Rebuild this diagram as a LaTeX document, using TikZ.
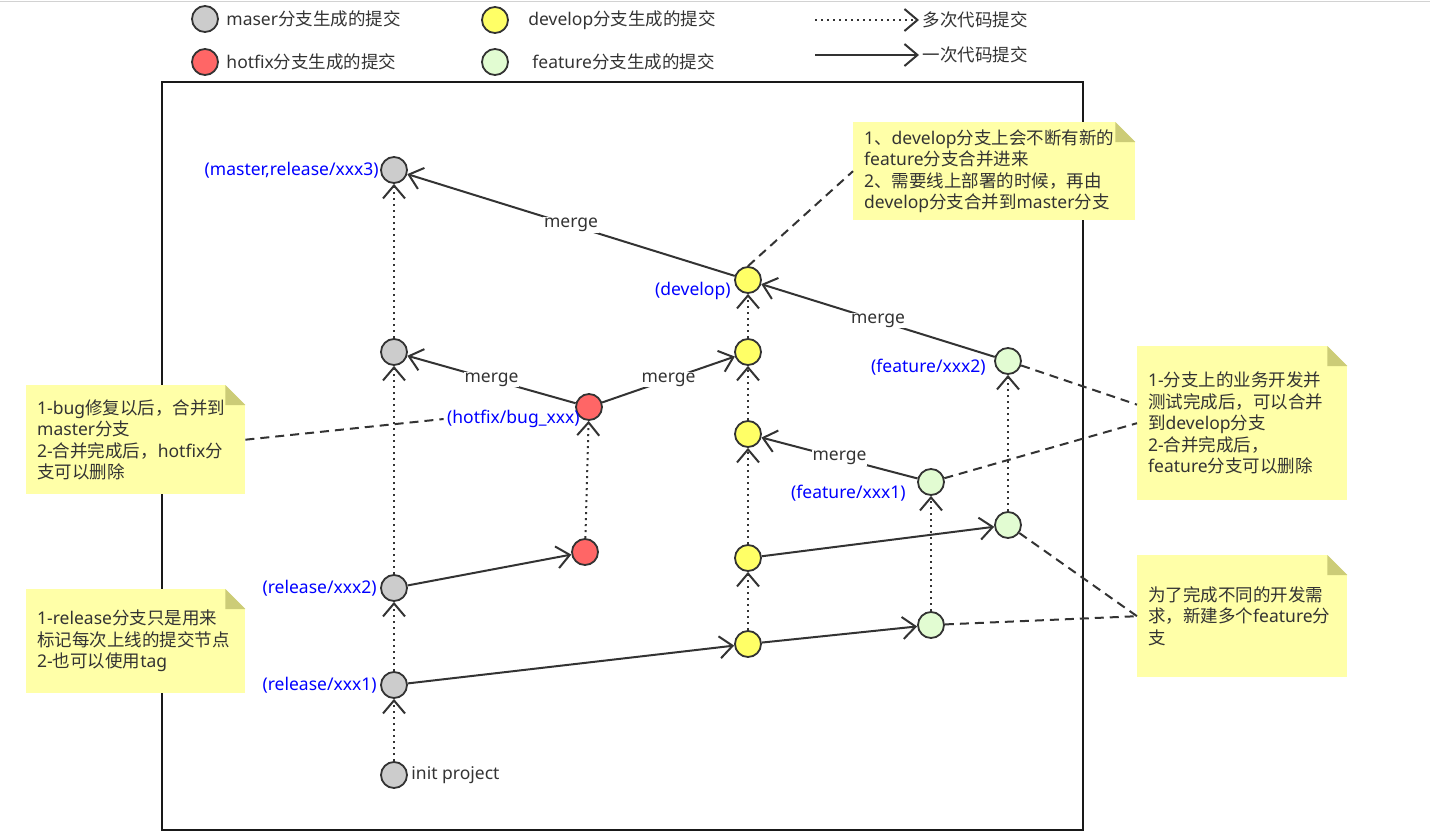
\documentclass[tikz,border=0pt]{standalone}
\usepackage{fontspec}
\setmainfont{Noto Sans}
\newfontfamily\zhfont{Noto Sans CJK SC}
\newcommand{\zh}[1]{{\zhfont #1}}
\usetikzlibrary{arrows.meta,positioning}
\definecolor{linegray}{HTML}{333333}
\definecolor{mastergray}{HTML}{CCCCCC}
\definecolor{hotfixred}{HTML}{FF6666}
\definecolor{developyellow}{HTML}{FFFF66}
\definecolor{featuregreen}{HTML}{E2FCD2}
\definecolor{noteyellow}{HTML}{FFFFA8}
\definecolor{notefold}{HTML}{CCCC77}
\pgfdeclarelayer{background}
\pgfsetlayers{background,main}

\begin{document}
\begin{tikzpicture}[x=1pt,y=-1pt,
  font=\fontsize{17.5}{21.5}\selectfont, text=linegray,
  commit/.style={circle,draw=linegray,line width=1.8pt,minimum size=26pt,inner sep=0pt},
  master/.style={commit,fill=mastergray},
  hotfix/.style={commit,fill=hotfixred},
  develop/.style={commit,fill=developyellow},
  feature/.style={commit,fill=featuregreen},
  lbl/.style={text=blue},
  many/.style={draw=linegray,line width=2pt,dash pattern=on 2pt off 4pt,-{Straight Barb[length=13pt,width=22pt]}},
  once/.style={draw=linegray,line width=2pt,-{Straight Barb[length=13pt,width=22pt]}},
  mergelbl/.style={midway,fill=white,inner sep=1pt},
  hint/.style={draw=linegray,line width=2pt,dash pattern=on 9pt off 6pt},
  note/.style={fill=noteyellow,anchor=north west,align=left,inner xsep=11pt,inner ysep=0pt}]

\useasboundingbox (0,0) rectangle (1430,833);

% legend
\node[master,label={[label distance=4pt]right:maser\zh{分支生成的提交}}] (legmaster) at (205,19) {};
\node[hotfix,label={[label distance=4pt]right:hotfix\zh{分支生成的提交}}] (leghotfix) at (205,62) {};
\node[develop,label={[label distance=16pt]right:develop\zh{分支生成的提交}}] (legdevelop) at (495,20) {};
\node[feature,label={[label distance=20pt]right:feature\zh{分支生成的提交}}] (legfeature) at (495,62) {};
\coordinate (legmanyfrom) at (815,20);
\coordinate (legoncefrom) at (815,55);
\node[anchor=west] (legmany) at (919,20) {\zh{多次代码提交}};
\node[anchor=west] (legonce) at (919,55) {\zh{一次代码提交}};
\draw[many] (legmanyfrom) -- (legmany);
\draw[once] (legoncefrom) -- (legonce);

% master and release
\node[master,label={right:init project}] (init) at (394,775) {};
\node[master,label={[lbl]left:(release/xxx1)}] (rel1) at (394,685) {};
\node[master,label={[lbl]left:(release/xxx2)}] (rel2) at (394,588) {};
\node[master] (mas1) at (394,352) {};
\node[master,label={[lbl,xshift=2pt]left:(master,release/xxx3)}] (mas2) at (394,170) {};

% hotfix
\node[hotfix] (fix1) at (585,552) {};
\node[hotfix,label={[lbl,name=fixlbl,anchor=east,xshift=8pt,yshift=-12pt]west:(hotfix/bug\_xxx)}] (fix2) at (589,407) {};

% develop
\node[develop] (dev1) at (748,644) {};
\node[develop] (dev2) at (748,558) {};
\node[develop] (dev3) at (748,434) {};
\node[develop] (dev4) at (748,352) {};
\node[develop,label={[lbl,yshift=-11pt]left:(develop)}] (dev5) at (748,280) {};

% feature
\node[feature] (fea1) at (931,625) {};
\node[feature,label={[lbl,xshift=-8pt,yshift=-11pt]left:(feature/xxx1)}] (fea1b) at (931,482) {};
\node[feature] (fea2) at (1008,525) {};
\node[feature,label={[lbl,xshift=-5pt,yshift=-6pt]left:(feature/xxx2)}] (fea2b) at (1008,361) {};

% frame
\begin{pgfonlayer}{background}
  \draw[gray!35,line width=1pt] (0,1) -- (1430,1);
  \draw[black!90,line width=1.8pt] (162,82) rectangle (1083,830);
\end{pgfonlayer}

% commits
\draw[many] (init) -- (rel1);
\draw[many] (rel1) -- (rel2);
\draw[many] (rel2) -- (mas1);
\draw[many] (mas1) -- (mas2);
\draw[many] (fix1) -- (fix2);
\draw[many] (dev1) -- (dev2);
\draw[many] (dev2) -- (dev3);
\draw[many] (dev3) -- (dev4);
\draw[many] (dev4) -- (dev5);
\draw[many] (fea1) -- (fea1b);
\draw[many] (fea2) -- (fea2b);

\draw[once] (rel1) -- (dev1);
\draw[once] (rel2) -- (fix1);
\draw[once] (dev1) -- (fea1);
\draw[once] (dev2) -- (fea2);

% merges
\draw[once] (fix2) -- node[mergelbl]{merge} (mas1);
\draw[once] (fix2) -- node[mergelbl]{merge} (dev4);
\draw[once] (dev5) -- node[mergelbl]{merge} (mas2);
\draw[once] (fea2b) -- node[mergelbl]{merge} (dev5);
\draw[once] (fea1b) -- node[mergelbl]{merge} (dev3);

% notes
\node[note,minimum width=282pt,minimum height=98pt,text width=260pt] (note1) at (853,122)
  {1\zh{、}develop\zh{分支上会不断有新的}\\feature\zh{分支合并进来}\\2\zh{、需要线上部署的时候，再由}\\develop\zh{分支合并到}master\zh{分支}};
\node[note,minimum width=210pt,minimum height=154pt,text width=188pt] (note2) at (1137,346)
  {1-\zh{分支上的业务开发并}\\\zh{测试完成后，可以合并}\\\zh{到}develop\zh{分支}\\2-\zh{合并完成后，}\\feature\zh{分支可以删除}};
\node[note,minimum width=210pt,minimum height=122pt,text width=188pt] (note3) at (1137,555)
  {\zh{为了完成不同的开发需}\\\zh{求，新建多个}feature\zh{分}\\\zh{支}};
\node[note,minimum width=219pt,minimum height=109pt,text width=197pt] (note4) at (26,385)
  {1-bug\zh{修复以后，合并到}\\master\zh{分支}\\2-\zh{合并完成后，}hotfix\zh{分}\\\zh{支可以删除}};
\node[note,minimum width=219pt,minimum height=104pt,text width=197pt] (note5) at (26,589)
  {1-release\zh{分支只是用来}\\\zh{标记每次上线的提交节点}\\2-\zh{也可以使用}tag};

\foreach \n in {note1,note2,note3,note4,note5}{
  \fill[white] ([xshift=-20pt]\n.north east) -- (\n.north east) -- ([yshift=-20pt]\n.north east) -- cycle;
  \fill[notefold] ([xshift=-20pt]\n.north east) -- ([xshift=-20pt,yshift=-20pt]\n.north east) -- ([yshift=-20pt]\n.north east) -- cycle;
}

% note links
\draw[hint] (dev5.north) -- (note1.west);
\draw[hint] (fea2b) -- (note2.170);
\draw[hint] (fea1b) -- (note2.west);
\draw[hint] (fea2) -- (note3.west);
\draw[hint] (fea1) -- (note3.west);
\draw[hint] (note4.east) -- (fixlbl.west);

\end{tikzpicture}
\end{document}
